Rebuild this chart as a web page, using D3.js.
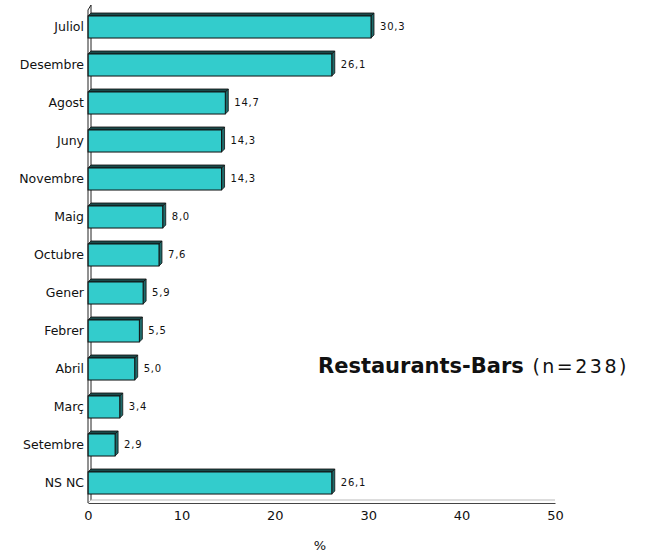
<!DOCTYPE html>
<html><head><meta charset="utf-8">
<script src="https://cdn.jsdelivr.net/npm/d3@7"></script>
<style>body{margin:0;background:#fff}svg{display:block}</style>
</head><body>
<script>
const categories = ["Juliol","Desembre","Agost","Juny","Novembre","Maig","Octubre","Gener","Febrer","Abril","Març","Setembre","NS NC"];
const values = [30.3,26.1,14.7,14.3,14.3,8.0,7.6,5.9,5.5,5.0,3.4,2.9,26.1];
const xTicks = [0,10,20,30,40,50];
const titleBold = "Restaurants-Bars";
const titleRest = " (n=238)";
const xLabel = "%";

const W=654,H=554;
const svg=d3.select("body").append("svg").attr("width",W).attr("height",H);
const x=d3.scaleLinear().domain([0,50]).range([88,555]);
const y=d3.scaleBand().domain(categories).range([8,502]).paddingInner(0.42).paddingOuter(0.21);
const d=3;
const g=svg.append("g");
g.append("line").attr("x1",x(0)+d).attr("x2",x(0)+d).attr("y1",5).attr("y2",500).attr("stroke","#222").attr("stroke-width",1);
g.append("path").attr("d",`M${x(0)},10 L${x(0)+d},5`).attr("stroke","#222").attr("fill","none");
g.append("path").attr("d",`M${x(0)},503 L${x(0)+d},500 L${x(50)},500`).attr("stroke","#bbb").attr("fill","none");
const bars=g.selectAll("g.bar").data(categories).join("g");
bars.append("path").attr("d",(c,i)=>{const x1=x(values[i]),y0=y(c),h=y.bandwidth();return `M${x1},${y0} L${x1+d},${y0-d} L${x1+d},${y0+h-d} L${x1},${y0+h}Z`;})
  .attr("fill","#1f6b6b").attr("stroke","#111").attr("stroke-width",0.8);
bars.append("path").attr("d",(c,i)=>{const x1=x(values[i]),y0=y(c);return `M${x(0)},${y0} L${x(0)+d},${y0-d} L${x1+d},${y0-d} L${x1},${y0}Z`;})
  .attr("fill","#1a4a4a").attr("stroke","#111").attr("stroke-width",0.8);
bars.append("rect").attr("x",x(0)).attr("y",c=>y(c)).attr("width",(c,i)=>x(values[i])-x(0)).attr("height",y.bandwidth())
  .attr("fill","#33CCCC").attr("stroke","#111").attr("stroke-width",1);
bars.append("text").attr("x",(c,i)=>x(values[i])+d+6).attr("y",c=>y(c)+y.bandwidth()/2-1).attr("dy","0.35em")
  .attr("font-family","DejaVu Sans").attr("font-size",10).attr("letter-spacing",0.8).attr("fill","#111")
  .text((c,i)=>d3.format(".1f")(values[i]).replace(".",","));
const ya=d3.axisLeft(y).tickSize(0).tickPadding(4);
const yg=svg.append("g").attr("transform",`translate(${x(0)},0)`).call(ya);
yg.select(".domain").remove();
yg.selectAll("text").attr("font-family","DejaVu Sans").attr("font-size",12.5).attr("fill","#111");
svg.append("line").attr("x1",x(0)).attr("x2",x(0)).attr("y1",10).attr("y2",503).attr("stroke","#222");
const xa=d3.axisBottom(x).tickValues(xTicks).tickSize(0).tickPadding(8);
const xg=svg.append("g").attr("transform","translate(0,503)").call(xa);
xg.select(".domain").attr("stroke","#444");
xg.selectAll("text").attr("font-family","DejaVu Sans").attr("font-size",13).attr("fill","#111");
svg.append("text").attr("x",320).attr("y",550).attr("text-anchor","middle").attr("font-family","DejaVu Sans").attr("font-size",13).attr("fill","#111").text(xLabel);
const t=svg.append("text").attr("x",318).attr("y",373).attr("font-family","DejaVu Sans").attr("fill","#111");
t.append("tspan").attr("font-weight","bold").attr("font-size",21).text(titleBold);
t.append("tspan").attr("font-size",19).attr("letter-spacing",2.5).text(titleRest);
</script>
</body></html>
